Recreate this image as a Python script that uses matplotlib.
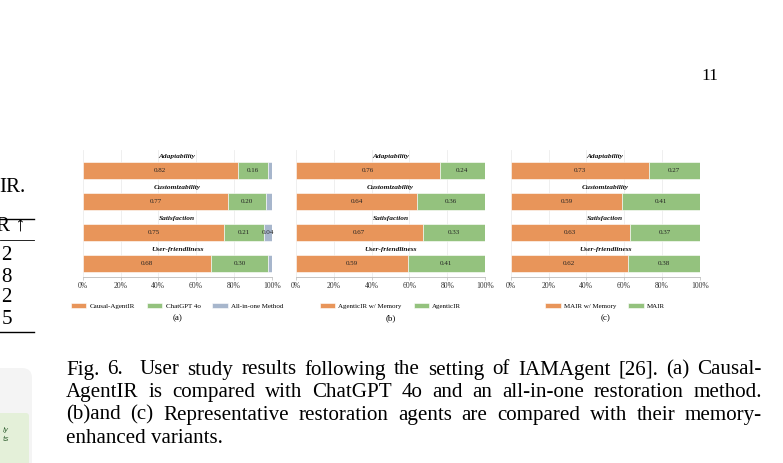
import numpy as np
import matplotlib
matplotlib.use("Agg")
import matplotlib.pyplot as plt
from matplotlib.transforms import Affine2D
from matplotlib.patches import FancyBboxPatch

plt.rcParams['font.family'] = ['Liberation Serif', 'DejaVu Serif']

criteria = ["Adaptability", "Customizability", "Satisfaction", "User-friendliness"]

# (a) Causal-AgentIR vs ChatGPT 4o vs all-in-one
a_names = ["Causal-AgentIR", "ChatGPT 4o", "All-in-one Method"]
a_ours = [0.82, 0.77, 0.75, 0.68]
a_gpt = [0.16, 0.20, 0.21, 0.30]
a_aio = [0.02, 0.03, 0.04, 0.02]

# (b) AgenticIR with / without memory
b_names = ["AgenticIR w/ Memory", "AgenticIR"]
b_mem = [0.76, 0.64, 0.67, 0.59]
b_base = [0.24, 0.36, 0.33, 0.41]

# (c) MAIR with / without memory
c_names = ["MAIR w/ Memory", "MAIR"]
c_mem = [0.73, 0.59, 0.63, 0.62]
c_base = [0.27, 0.41, 0.37, 0.38]

xticks = [0, 0.2, 0.4, 0.6, 0.8, 1.0]
xtick_labels = ["0%", "20%", "40%", "60%", "80%", "100%"]

caption = [
    "Fig. 6.  User study results following the setting of IAMAgent [26]. (a) Causal-",
    "AgentIR is compared with ChatGPT 4o and an all-in-one restoration method.",
    "(b)and (c) Representative restoration agents are compared with their memory-",
    "enhanced variants.",
]
table_digits = ["2", "8", "2", "5"]

orange = "#e8955a"
green = "#94c27e"
grey = "#a7b6cc"

W, H = 783, 463
fig = plt.figure(figsize=(W / 100, H / 100), dpi=100)
# pixel coords, origin top-left
px = Affine2D().scale(1 / W, -1 / H).translate(0, 1) + fig.transFigure


def panel(x0, series, names, colors, tag):
    ax = fig.add_axes([x0 / W, (H - 276.7) / H, 189 / W, 126.7 / H])
    y = np.arange(len(criteria))
    left = np.zeros(len(criteria))
    for vals, name, col in zip(series, names, colors):
        vals = np.array(vals)
        ax.barh(y, vals, left=left, height=0.55, color=col, edgecolor='white',
                linewidth=0.4, label=name, zorder=2)
        for yi, l, v in zip(y, left, vals):
            if v >= 0.04:
                ax.text(l + v / 2, yi, f"{v:.2f}", ha='center', va='center',
                        fontsize=5, color='#222222', zorder=3)
        left += vals
    for yi, c in zip(y, criteria):
        ax.text(0.5, yi - 0.45, c, ha='center', va='center', fontsize=5.3,
                fontweight='bold', fontstyle='italic', color='#111111')
    ax.set_xlim(0, 1)
    ax.set_ylim(3.416, -0.668)
    ax.set_yticks([])
    ax.set_xticks(xticks, xtick_labels, fontsize=5.5, color='#333333')
    ax.tick_params(axis='x', length=2, width=0.5, color='#bbbbbb', pad=1.5)
    ax.grid(axis='x', color='#ececec', linewidth=0.6, zorder=0)
    ax.set_axisbelow(True)
    for s in ['top', 'right', 'left']:
        ax.spines[s].set_visible(False)
    ax.spines['bottom'].set_color('#bbbbbb')
    ax.spines['bottom'].set_linewidth(0.6)
    ax.legend(loc='center', bbox_to_anchor=(0.5, -0.229), ncol=len(names),
              frameon=False, fontsize=5, handlelength=2.2, handleheight=0.7,
              handletextpad=0.5, columnspacing=1.7)
    ax.text(0.5, -0.328, tag, transform=ax.transAxes, ha='center', va='center',
            fontsize=6.5)
    return ax


panel(82.7, [a_ours, a_gpt, a_aio], a_names, [orange, green, grey], "(a)")
panel(296, [b_mem, b_base], b_names, [orange, green], "(b)")
panel(510.7, [c_mem, c_base], c_names, [orange, green], "(c)")

renderer = fig.canvas.get_renderer()
x_left, x_right = 66, 762

# caption size: a little under what would make line 2 fill the column
probe = fig.text(0, 0, caption[1], fontsize=12)
fs = 12 * (x_right - x_left) / probe.get_window_extent(renderer).width * 0.93
probe.remove()

# page number
fig.text(701, 80.5, "11", transform=px, fontsize=12.5, va='baseline')

# fragments of the neighbouring column
fig.text(-1, 192, "IR.", transform=px, fontsize=fs, va='baseline')
fig.text(-4, 231, "R \u2191", transform=px, fontsize=fs, va='baseline')
for yy, lw in [(219.3, 1.0), (240.3, 0.6), (331.7, 1.0)]:
    fig.add_artist(plt.Line2D([0, 34], [yy, yy], transform=px, color='black', lw=lw))
for i, d in enumerate(table_digits):
    fig.text(1.5, 260.5 + 21 * i, d, transform=px, fontsize=fs, va='baseline')

# bit of a boxed figure on the left
fig.add_artist(FancyBboxPatch((-30, 368), 62, 120, boxstyle="round,pad=0,rounding_size=10",
                              transform=px, facecolor='#f4f4f4', edgecolor='none'))
fig.add_artist(FancyBboxPatch((-30, 413), 59, 80, boxstyle="round,pad=0,rounding_size=3",
                              transform=px, facecolor='#e4f0d9', edgecolor='none'))
fig.text(9, 430, "ly", transform=px, fontsize=5, ha='right', va='center',
         fontstyle='italic', family=['DejaVu Sans'], color='#2f5f2f')
fig.text(9, 439, "ts", transform=px, fontsize=5, ha='right', va='center',
         fontstyle='italic', family=['DejaVu Sans'], color='#2f5f2f')

# justified caption (last line left aligned)
for i, line in enumerate(caption):
    yb = 374.5 + 22.7 * i
    if i == len(caption) - 1:
        fig.text(x_left, yb, line, transform=px, fontsize=fs, va='baseline')
        continue
    words = line.split(" ")
    ts = [fig.text(0, yb, w, transform=px, fontsize=fs, va='baseline') for w in words]
    widths = [t.get_window_extent(renderer).width if w else 0 for t, w in zip(ts, words)]
    gap = (x_right - x_left - sum(widths)) / (len(words) - 1)
    x = x_left
    for t, wd in zip(ts, widths):
        t.set_x(x)
        x += wd + gap

fig.savefig("out.png", dpi=100)
